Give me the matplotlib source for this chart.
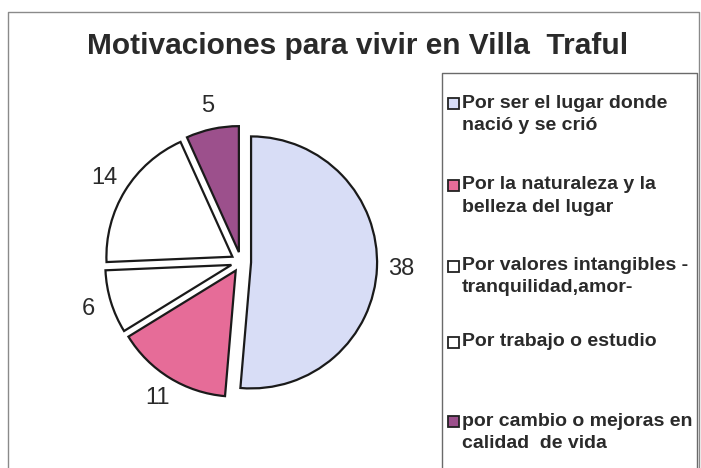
import matplotlib
matplotlib.use("Agg")
import matplotlib.pyplot as plt
from matplotlib.lines import Line2D
from matplotlib.patches import Rectangle

plt.rcParams['font.family'] = ['Liberation Sans', 'DejaVu Sans']

# respuestas por motivo
motivos = [
    "Por ser el lugar donde\nnació y se crió",
    "Por la naturaleza y la\nbelleza del lugar",
    "Por valores intangibles -\ntranquilidad,amor-",
    "Por trabajo o estudio",
    "por cambio o mejoras en\ncalidad  de vida",
]
valores = [38, 11, 6, 14, 5]
colores = ['#d8ddf6', '#e66c98', '#ffffff', '#ffffff', '#9c508c']

W, H = 701, 468
fig = plt.figure(figsize=(W / 100, H / 100), dpi=100)
fig.patch.set_facecolor('white')

def fx(px):
    return px / W

def fy(py):
    return 1 - py / H

# marco exterior
fig.add_artist(Line2D([fx(8), fx(8), fx(699), fx(699)], [0, fy(12), fy(12), 0],
                      color='#8a8a8a', lw=1.0))
# marco de la leyenda
fig.add_artist(Line2D([fx(442), fx(442), fx(697), fx(697)], [0, fy(73), fy(73), 0],
                      color='#6a6a6a', lw=1.0))

fig.text(fx(358), fy(46), "Motivaciones para vivir en Villa  Traful",
         ha='center', va='center', fontsize=21.5, fontweight='bold', color='#2a2a2a')

# torta
cx, cy, R = 241, 262, 126
lim = 1.4
side = 2 * lim * R
ax = fig.add_axes([fx(cx - side / 2), fy(cy + side / 2), side / W, side / H])
total = sum(valores)
wedges, texts, autotexts = ax.pie(
    valores, colors=colores, startangle=90, counterclock=False,
    explode=[0.08] * len(valores),
    autopct=lambda p: f'{p * total / 100:.0f}', pctdistance=1.19,
    wedgeprops=dict(edgecolor='#1a1a1a', linewidth=1.6),
    textprops=dict(fontsize=17, color='#2a2a2a'))
ax.set_xlim(-lim, lim)
ax.set_ylim(-lim, lim)
ax.set_aspect('equal')
ax.axis('off')

# leyenda: un cuadro por motivo y sus renglones
filas = [103, 185, 266, 342, 421]
renglon = 22
for motivo, color, y in zip(motivos, colores, filas):
    fig.add_artist(Rectangle((fx(448), fy(y + 5.5)), 11 / W, 11 / H,
                             facecolor=color, edgecolor='#222222', lw=1.3))
    for i, linea in enumerate(motivo.split('\n')):
        fig.text(fx(462), fy(y + i * renglon), linea, ha='left', va='center',
                 fontsize=14, fontweight='bold', color='#2a2a2a')

fig.savefig('out.png', dpi=100)
